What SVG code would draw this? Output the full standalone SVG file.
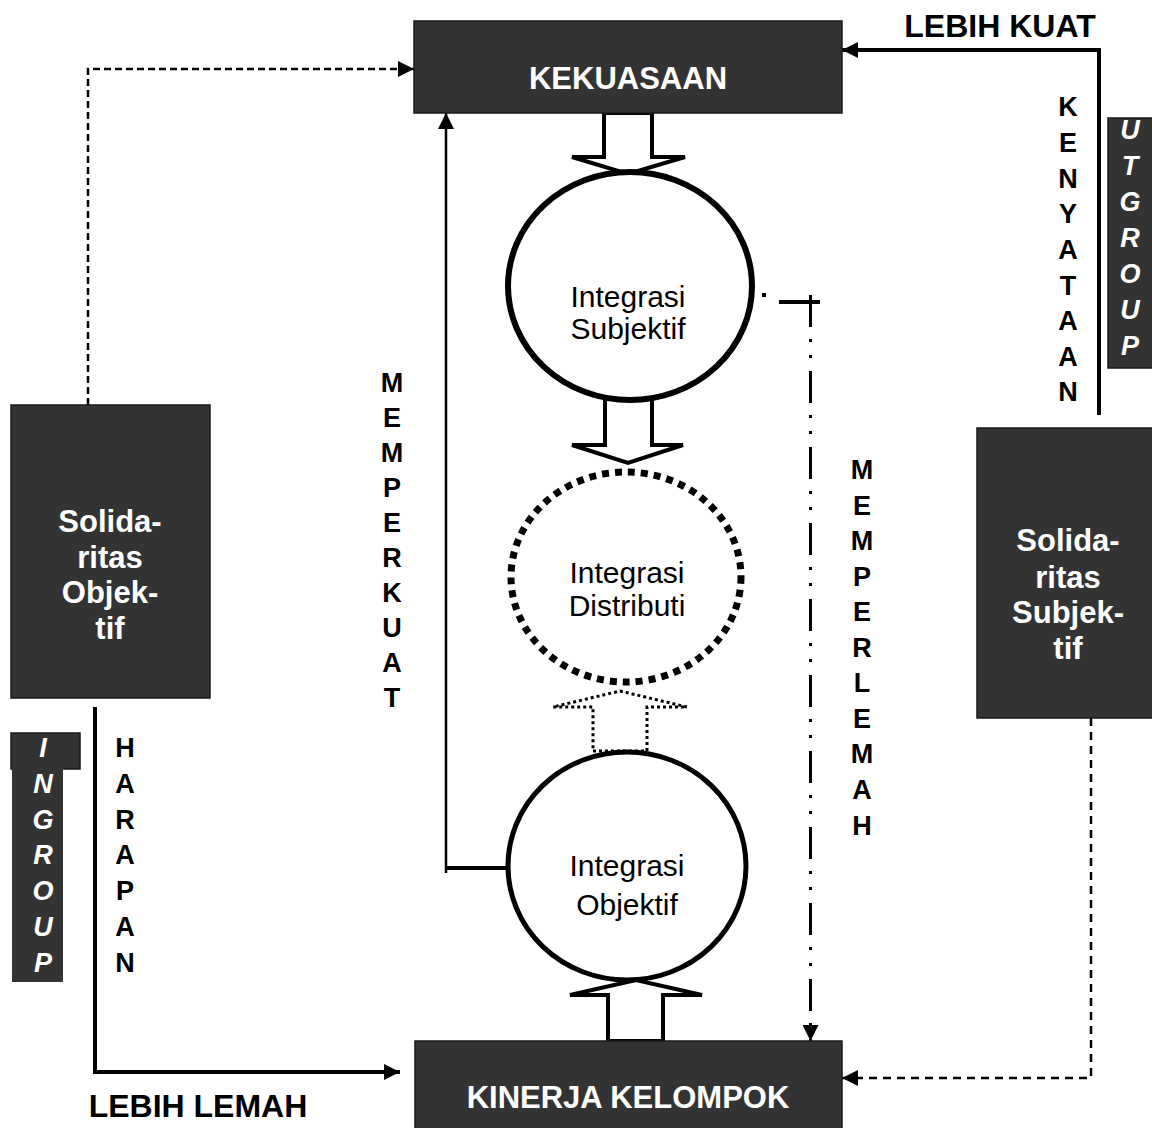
<svg xmlns="http://www.w3.org/2000/svg" width="1152" height="1128" viewBox="0 0 1152 1128">
<style>
.box{fill:#333333;stroke:#1a1a1a;stroke-width:1.5}
.bt{font-family:"Liberation Sans",Arial,sans-serif;font-weight:bold;font-size:31px;fill:#ffffff;text-anchor:middle}
.lbl{font-family:"Liberation Sans",Arial,sans-serif;font-weight:bold;font-size:32px;fill:#000000;text-anchor:middle}
.vl{font-family:"Liberation Sans",Arial,sans-serif;font-weight:bold;font-size:27px;fill:#000000;text-anchor:middle}
.vi{font-family:"Liberation Sans",Arial,sans-serif;font-weight:bold;font-style:italic;font-size:27px;fill:#ffffff;text-anchor:middle}
.ct{font-family:"Liberation Sans",Arial,sans-serif;font-size:30px;fill:#000000;text-anchor:middle}
.blk{fill:#ffffff;stroke:#000000;stroke-width:4;stroke-linejoin:miter}
</style>
<defs>
<marker id="ah" viewBox="0 0 10 10" refX="10" refY="5" markerWidth="16" markerHeight="16" markerUnits="userSpaceOnUse" orient="auto">
<path d="M0,0 L10,5 L0,10 z" fill="#000000"/>
</marker>
</defs>

<g id="connectors" fill="none" stroke="#000000">
<!-- block arrows -->
<polygon class="blk" points="604,113 652,113 652,157 685,157 628,174 572,157 604,157"/>
<polygon class="blk" points="605,398 652,398 652,445 683,445 628,463 572,445 605,445"/>
<polygon points="593,751 647,751 647,707 687,707 620,691 553,707 593,707 593,751" fill="#ffffff" stroke="#000000" stroke-width="3" stroke-dasharray="3 3"/>
<polygon class="blk" points="608,1041 663,1041 663,995 702,995 636,980 570,995 608,995"/>
<!-- dashed from left box to KEKUASAAN -->
<polyline points="88,405 88,69 414,69" stroke-width="2.5" stroke-dasharray="7 4" marker-end="url(#ah)"/>
<!-- MEMPERKUAT line -->
<line x1="445" y1="868" x2="515" y2="868" stroke-width="4"/>
<line x1="446" y1="873" x2="446" y2="113" stroke-width="2.5" marker-end="url(#ah)"/>
<!-- LEBIH KUAT line -->
<polyline points="1099,415 1099,50 842,50" stroke-width="4" marker-end="url(#ah)"/>
<!-- HARAPAN line -->
<polyline points="95,707 95,1072 400,1072" stroke-width="4" marker-end="url(#ah)"/>
<!-- dashed from right box to KINERJA -->
<polyline points="1091,718 1091,1078 842,1078" stroke-width="2.5" stroke-dasharray="8 6" marker-end="url(#ah)"/>
<!-- dash-dot MEMPERLEMAH line -->
<rect x="762" y="293" width="4" height="4" fill="#000000" stroke="none"/>
<line x1="779" y1="302" x2="820" y2="302" stroke-width="4"/>
<line x1="810.5" y1="295" x2="810.5" y2="1041" stroke-width="3" stroke-dasharray="32 12 3 13 3 13" marker-end="url(#ah)"/>
</g>

<g id="node-kekuasaan">
<rect class="box" x="414" y="21" width="428" height="92"/>
<text class="bt" x="628" y="89">KEKUASAAN</text>
</g>

<g id="node-kinerja">
<rect class="box" x="415" y="1041" width="427" height="95"/>
<text class="bt" x="628" y="1108">KINERJA KELOMPOK</text>
</g>

<g id="node-integrasi-subjektif">
<ellipse cx="630" cy="286" rx="122" ry="114" fill="#ffffff" stroke="#000000" stroke-width="6"/>
<text class="ct" x="628" y="307">Integrasi</text>
<text class="ct" x="628" y="339">Subjektif</text>
</g>

<g id="node-integrasi-distributi">
<ellipse cx="626" cy="577" rx="115" ry="105" fill="#ffffff" stroke="#000000" stroke-width="7" stroke-dasharray="7 6"/>
<text class="ct" x="627" y="583">Integrasi</text>
<text class="ct" x="627" y="616">Distributi</text>
</g>

<g id="node-integrasi-objektif">
<ellipse cx="627" cy="866" rx="119" ry="114" fill="#ffffff" stroke="#000000" stroke-width="5"/>
<text class="ct" x="627" y="876">Integrasi</text>
<text class="ct" x="627" y="915">Objektif</text>
</g>

<g id="node-solidaritas-objektif">
<rect class="box" x="11" y="405" width="199" height="293"/>
<text class="bt" x="110" y="532">Solida-</text>
<text class="bt" x="110" y="568">ritas</text>
<text class="bt" x="110" y="603">Objek-</text>
<text class="bt" x="110" y="639">tif</text>
</g>

<g id="node-solidaritas-subjektif">
<rect class="box" x="977" y="428" width="180" height="290"/>
<text class="bt" x="1068" y="551">Solida-</text>
<text class="bt" x="1068" y="588">ritas</text>
<text class="bt" x="1068" y="623">Subjek-</text>
<text class="bt" x="1068" y="659">tif</text>
</g>

<g id="label-lebih-kuat">
<text class="lbl" x="1000" y="37">LEBIH KUAT</text>
</g>
<g id="label-lebih-lemah">
<text class="lbl" x="198" y="1117">LEBIH LEMAH</text>
</g>

<g id="label-memperkuat">
<text class="vl" x="392" y="392">M</text>
<text class="vl" x="392" y="427">E</text>
<text class="vl" x="392" y="462">M</text>
<text class="vl" x="392" y="497">P</text>
<text class="vl" x="392" y="532">E</text>
<text class="vl" x="392" y="567">R</text>
<text class="vl" x="392" y="602">K</text>
<text class="vl" x="392" y="637">U</text>
<text class="vl" x="392" y="672">A</text>
<text class="vl" x="392" y="707">T</text>
</g>

<g id="label-memperlemah">
<text class="vl" x="862" y="479">M</text>
<text class="vl" x="862" y="515">E</text>
<text class="vl" x="862" y="550">M</text>
<text class="vl" x="862" y="586">P</text>
<text class="vl" x="862" y="621">E</text>
<text class="vl" x="862" y="657">R</text>
<text class="vl" x="862" y="692">L</text>
<text class="vl" x="862" y="728">E</text>
<text class="vl" x="862" y="763">M</text>
<text class="vl" x="862" y="799">A</text>
<text class="vl" x="862" y="835">H</text>
</g>

<g id="label-kenyataan">
<text class="vl" x="1068" y="116">K</text>
<text class="vl" x="1068" y="152">E</text>
<text class="vl" x="1068" y="188">N</text>
<text class="vl" x="1068" y="223">Y</text>
<text class="vl" x="1068" y="259">A</text>
<text class="vl" x="1068" y="295">T</text>
<text class="vl" x="1068" y="330">A</text>
<text class="vl" x="1068" y="366">A</text>
<text class="vl" x="1068" y="401">N</text>
</g>

<g id="label-utgroup">
<rect class="box" x="1108" y="118" width="50" height="250"/>
<text class="vi" x="1130" y="139">U</text>
<text class="vi" x="1130" y="175">T</text>
<text class="vi" x="1130" y="211">G</text>
<text class="vi" x="1130" y="247">R</text>
<text class="vi" x="1130" y="283">O</text>
<text class="vi" x="1130" y="319">U</text>
<text class="vi" x="1130" y="355">P</text>
</g>

<g id="label-harapan">
<text class="vl" x="125" y="757">H</text>
<text class="vl" x="125" y="793">A</text>
<text class="vl" x="125" y="829">R</text>
<text class="vl" x="125" y="864">A</text>
<text class="vl" x="125" y="900">P</text>
<text class="vl" x="125" y="936">A</text>
<text class="vl" x="125" y="972">N</text>
</g>

<g id="label-ingroup">
<rect class="box" x="11" y="733" width="69" height="36"/>
<rect x="12" y="768" width="51" height="214" fill="#333333" stroke="none"/>
<text class="vi" x="43" y="757">I</text>
<text class="vi" x="43" y="793">N</text>
<text class="vi" x="43" y="829">G</text>
<text class="vi" x="43" y="864">R</text>
<text class="vi" x="43" y="900">O</text>
<text class="vi" x="43" y="936">U</text>
<text class="vi" x="43" y="972">P</text>
</g>
</svg>
